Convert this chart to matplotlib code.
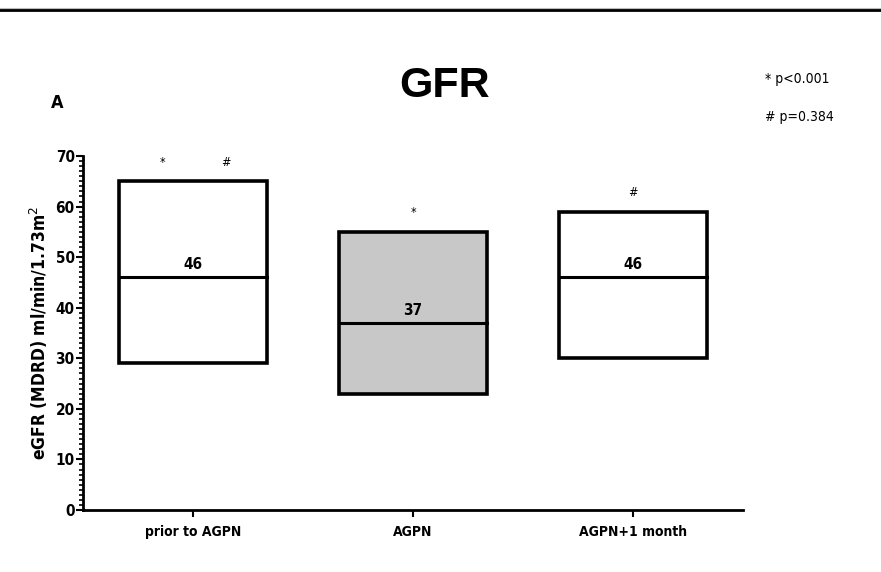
import matplotlib

matplotlib.use("Agg")
import matplotlib.pyplot as plt  # noqa: E402
from matplotlib.lines import Line2D  # noqa: E402
from matplotlib.ticker import MultipleLocator  # noqa: E402

NARROW = dict(family="DejaVu Sans", stretch="condensed")

groups = ["prior to AGPN", "AGPN", "AGPN+1 month"]
low = [29, 23, 30]
high = [65, 55, 59]
median = [46, 37, 46]
fills = ["white", "#c8c8c8", "white"]
marks = [[("*", -0.14), ("#", 0.15)], [("*", 0.0)], [("#", 0.0)]]

fig = plt.figure(figsize=(8.81, 5.72), dpi=100)
ax = fig.add_axes([0.0942, 0.1084, 0.7492, 0.6189])

x = range(len(groups))
w = 0.67
ax.bar(x, [h - l for h, l in zip(high, low)], w, bottom=low, color=fills,
       edgecolor="black", linewidth=2.6, zorder=2)
for i, m in enumerate(median):
    ax.plot([i - w / 2, i + w / 2], [m, m], color="black", linewidth=2.2, zorder=3)
    ax.text(i, m + 1.0, f"{m}", ha="center", va="bottom", fontsize=11,
            fontweight="bold", **NARROW)
    for sym, dx in marks[i]:
        ax.text(i + dx, high[i] + 2.5, sym, ha="center", va="bottom", fontsize=9,
                **NARROW)

ax.set_xlim(-0.5, 2.5)
ax.set_ylim(0, 70)
ax.set_xticks(list(x))
ax.set_xticklabels(groups, fontsize=10, fontweight="bold", **NARROW)
ax.yaxis.set_major_locator(MultipleLocator(10))
ax.yaxis.set_minor_locator(MultipleLocator(1))
for lab in ax.get_yticklabels():
    lab.set_family(NARROW["family"])
    lab.set_stretch(NARROW["stretch"])
    lab.set_fontweight("bold")
    lab.set_fontsize(11)
ax.tick_params(axis="y", which="major", length=5, width=1.5, pad=1)
ax.tick_params(axis="y", which="minor", length=3, width=1.2)
ax.tick_params(axis="x", length=5, width=1.5, pad=6)
ax.spines[["top", "right"]].set_visible(False)
ax.spines[["left", "bottom"]].set_linewidth(2)
ax.set_ylabel("eGFR (MDRD) ml/min/1.73m$^2$", fontsize=12.5, fontweight="bold",
              labelpad=4, **NARROW)

fig.text(0.505, 0.85, "GFR", ha="center", va="center", fontsize=31,
         fontweight="bold", family="Liberation Sans")
fig.text(0.065, 0.82, "A", ha="center", va="center", fontsize=13,
         fontweight="bold", **NARROW)
fig.text(0.868, 0.862, "* p<0.001", ha="left", va="center", fontsize=10, **NARROW)
fig.text(0.868, 0.795, "# p=0.384", ha="left", va="center", fontsize=10, **NARROW)

fig.add_artist(Line2D([0, 1], [0.985, 0.985], color="#bbbbbb", linewidth=1.5,
                      transform=fig.transFigure))
fig.add_artist(Line2D([0, 1], [0.982, 0.982], color="black", linewidth=2,
                      transform=fig.transFigure))

fig.savefig("out.png", dpi=100)
